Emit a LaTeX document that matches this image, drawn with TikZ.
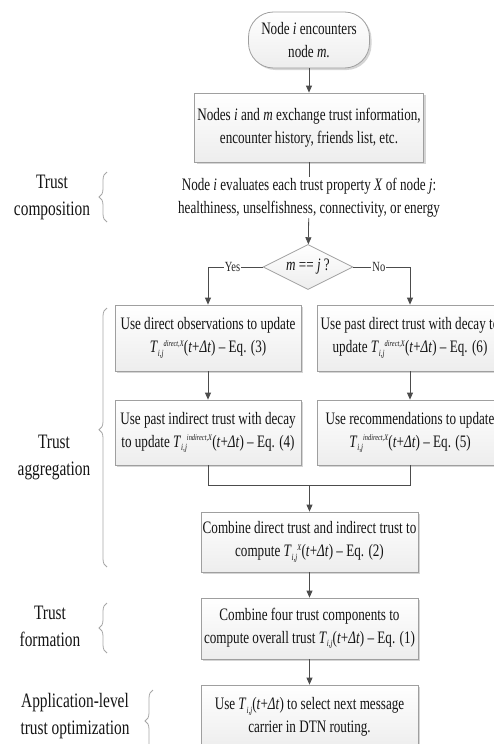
\documentclass[tikz,border=0pt]{standalone}
\usepackage{fontspec}
\setmainfont[FakeStretch=0.75]{Liberation Serif}
\usetikzlibrary{shapes.geometric,shadows,decorations.pathreplacing,arrows.meta}
\newcommand{\Tsub}{\textit{T}\raisebox{-3.5pt}{\fontsize{9.5}{9.5}\selectfont\textit{i,j}}}
\newcommand{\Tij}[1]{\Tsub\raisebox{6.5pt}{\fontsize{8.5}{8.5}\selectfont\textit{#1}}}
\newcommand{\Dt}{(\textit{t}+\textit{Δt})}
\begin{document}
\begin{tikzpicture}[x=1pt,y=-1pt,
  boxtext/.style={font=\fontsize{17.5}{23}\selectfont, text=black!92, align=center},
  procbox/.style={boxtext, draw=gray!75, line width=0.8pt, top color=white, bottom color=gray!14,
    drop shadow={shadow xshift=2pt, shadow yshift=-2pt, fill=gray!55, opacity=0.6},
    inner sep=0pt, rectangle},
  startbox/.style={procbox, rounded corners=25pt},
  decbox/.style={boxtext, diamond, draw=gray!75, line width=0.8pt, top color=white, bottom color=gray!14,
    minimum width=90pt, minimum height=45pt, inner sep=0pt, aspect=2},
  flow/.style={draw=gray!60!black, line width=0.8pt},
  arr/.style={flow, -{Triangle[length=7pt,width=6pt]}},
  side/.style={font=\fontsize{20.5}{27}\selectfont, text=black!92, align=center},
  br/.style={draw=gray!70, line width=0.8pt, decorate, decoration={brace, amplitude=8pt}},
  lab/.style={font=\fontsize{14}{16}\selectfont, fill=white, inner sep=1pt, text=black!85}
]
\useasboundingbox (0,0) rectangle (493,744);

\node[startbox, minimum width=121pt, minimum height=56pt] (start) at (309,40) {Node \textit{i} encounters\\node \textit{m}.};
\node[procbox, minimum width=229pt, minimum height=69pt] (exch) at (309,127.5) {Nodes \textit{i} and \textit{m} exchange trust information,\\encounter history, friends list, etc.};
\node[boxtext, inner sep=1pt] (eval) at (309,197.5) {Node \textit{i} evaluates each trust property \textit{X} of node \textit{j}:\\healthiness, unselfishness, connectivity, or energy};
\node[decbox] (dec) at (308,267) {\textit{m} == \textit{j} ?};

\node[procbox, minimum width=186pt, minimum height=66pt] (d1) at (208,338) {Use direct observations to update\\\Tij{direct,X}\Dt{} – Eq. (3)};
\node[procbox, minimum width=186pt, minimum height=66pt] (d2) at (410,338) {Use past direct trust with decay to\\update \Tij{direct,X}\Dt{} – Eq. (6)};
\node[procbox, minimum width=186pt, minimum height=65pt] (i1) at (208,432.5) {Use past indirect trust with decay\\to update \Tij{indirect,X}\Dt{} – Eq. (4)};
\node[procbox, minimum width=186pt, minimum height=65pt] (i2) at (410,432.5) {Use recommendations to update\\\Tij{indirect,X}\Dt{} – Eq. (5)};

\node[procbox, minimum width=217pt, minimum height=60pt] (comb) at (309.5,542) {Combine direct trust and indirect trust to\\compute \Tij{X}\Dt{} – Eq. (2)};
\node[procbox, minimum width=217pt, minimum height=61pt] (form) at (309.5,628.5) {Combine four trust components to\\compute overall trust \Tsub\Dt{} – Eq. (1)};
\node[procbox, minimum width=217pt, minimum height=64pt] (use) at (309.5,717) {Use \Tsub\Dt{} to select next message\\carrier in DTN routing.};

\coordinate (yl) at (208,267);
\coordinate (nr) at (410,267);
\coordinate (ml) at (208,485);
\coordinate (mr) at (410,485);
\coordinate (mm) at (309.5,485);

\draw[arr] (start) -- (exch);
\draw[flow] (exch) -- (eval);
\draw[arr] (eval) -- (dec);
\draw[flow] (dec.west) -- node[lab, pos=0.55] {Yes} (yl);
\draw[arr] (yl) -- (d1);
\draw[flow] (dec.east) -- node[lab, pos=0.45] {No} (nr);
\draw[arr] (nr) -- (d2);
\draw[arr] (d1) -- (i1);
\draw[arr] (d2) -- (i2);
\draw[flow] (i1.south) -- (ml) -- (mr) -- (i2.south);
\draw[arr] (mm) -- (comb);
\draw[arr] (comb) -- (form);
\draw[arr] (form) -- (use);

\node[side] (lcomp) at (52,197) {Trust\\composition};
\node[side] (lagg) at (54,457) {Trust\\aggregation};
\node[side] (lform) at (50,626) {Trust\\formation};
\node[side] (lapp) at (75,716.5) {Application-level\\trust optimization};

\draw[br] (107,222) -- (107,172);
\draw[br, decoration={aspect=0.53}] (107,567) -- (107,308);
\draw[br] (107,653) -- (107,603);
\draw[br] (153,752) -- (153,690);
\end{tikzpicture}
\end{document}
